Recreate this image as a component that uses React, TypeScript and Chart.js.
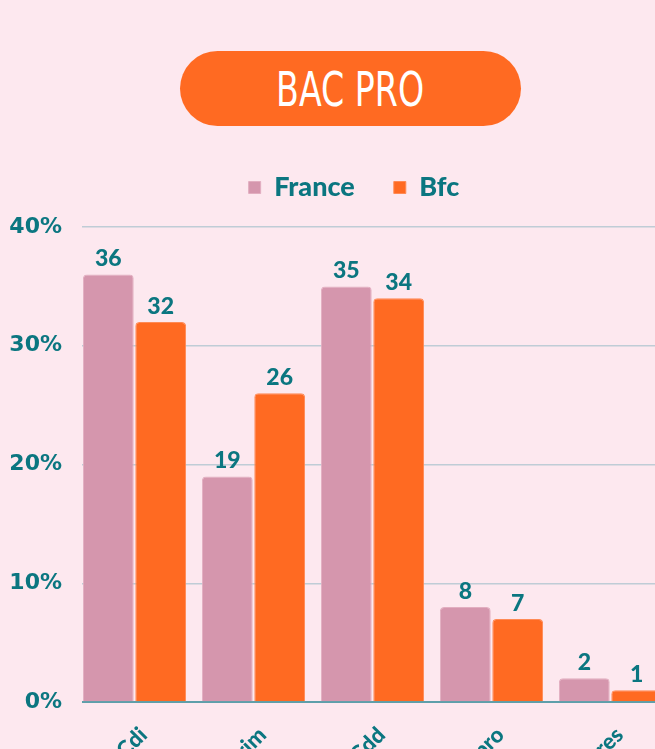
import React, { useEffect, useRef } from "react";
import { Chart, registerables } from "chart.js";

Chart.register(...registerables);

const categories = ["En Cdi", "En intérim", "En Cdd", "En contrat pro", "Autres"];
const franceValues = [36, 19, 35, 8, 2];
const bfcValues = [32, 26, 34, 7, 1];
const yTicks = [0, 10, 20, 30, 40];

const TEAL = "#0b7680";
const PINK = "#d596ad";
const ORANGE = "#ff6a22";
const BG = "#fde8ef";
const FONT = "Lato, 'DejaVu Sans', sans-serif";

const valueLabels = {
  id: "valueLabels",
  afterDatasetsDraw(chart: any) {
    const ctx = chart.ctx;
    ctx.save();
    ctx.font = `900 23px ${FONT}`;
    ctx.fillStyle = TEAL;
    ctx.textAlign = "center";
    ctx.textBaseline = "bottom";
    chart.data.datasets.forEach((ds: any, i: number) => {
      const meta = chart.getDatasetMeta(i);
      meta.data.forEach((el: any, j: number) => {
        ctx.fillText(String(ds.data[j]), el.x, el.y - 4);
      });
    });
    ctx.restore();
  },
};

// grid lines and axis line begin a few pixels inside the plot area
const gridInset = {
  id: "gridInset",
  beforeDatasetsDraw(chart: any) {
    const { ctx, chartArea } = chart;
    ctx.save();
    ctx.fillStyle = BG;
    ctx.fillRect(chartArea.left - 2, chartArea.top - 3, 9, chartArea.bottom - chartArea.top + 6);
    ctx.restore();
  },
};

const legendTweak = {
  id: "legendTweak",
  beforeInit(chart: any) {
    const legend = chart.legend;
    if (!legend) return;
    const origFit = legend.fit;
    legend.fit = function () {
      origFit.call(this);
      this.height += 16;
    };
  },
  afterLayout(chart: any) {
    const legend = chart.legend;
    if (!legend) return;
    legend.left += 19;
    legend.right += 19;
  },
};

export default function App() {
  const ref = useRef<HTMLCanvasElement>(null);
  useEffect(() => {
    document.body.style.margin = "0";
    document.body.style.background = BG;
    const chart = new Chart(ref.current!, {
      type: "bar",
      data: {
        labels: categories,
        datasets: [
          {
            label: "France",
            data: franceValues,
            backgroundColor: PINK,
            borderColor: "#e2aec0",
            borderWidth: 1,
            borderRadius: 4,
            borderSkipped: "bottom",
          },
          {
            label: "Bfc",
            data: bfcValues,
            backgroundColor: ORANGE,
            borderColor: "#ff8a55",
            borderWidth: 1,
            borderRadius: 4,
            borderSkipped: "bottom",
          },
        ],
      },
      options: {
        animation: false,
        responsive: false,
        maintainAspectRatio: false,
        layout: { padding: { top: 15, right: 0, left: 0, bottom: 0 } },
        plugins: {
          tooltip: { enabled: false },
          legend: {
            position: "top",
            labels: {
              boxWidth: 12,
              boxHeight: 12,
              padding: 39,
              color: TEAL,
              font: { family: FONT, size: 27, weight: "900" as any },
            },
          },
        },
        datasets: { bar: { categoryPercentage: 0.88, barPercentage: 0.97 } },
        scales: {
          x: {
            grid: { display: false },
            border: { display: true, color: "#5e9faa", width: 2 },
            ticks: {
              color: TEAL,
              font: { family: FONT, size: 22, weight: "900" as any },
              maxRotation: 45,
              minRotation: 45,
              labelOffset: 9,
              padding: 12,
            },
            afterFit: (s: any) => {
              s.height = 148;
              s.paddingLeft = 0;
              s.paddingRight = 0;
            },
          },
          y: {
            min: 0,
            max: 40,
            afterBuildTicks: (s: any) => {
              s.ticks = yTicks.map((v) => ({ value: v }));
            },
            grid: { color: "#bfccd6", lineWidth: 1.5, drawTicks: false },
            border: { display: false },
            ticks: {
              color: TEAL,
              padding: 13,
              font: { family: "'DejaVu Sans', sans-serif", size: 22, weight: "bold" as any },
              callback: (v: any) => v + "%",
            },
            afterFit: (s: any) => {
              s.width = 75;
            },
          },
        },
      },
      plugins: [legendTweak, gridInset, valueLabels],
    });
    return () => chart.destroy();
  }, []);

  return (
    <div
      style={{
        position: "relative",
        width: 655,
        height: 749,
        overflow: "hidden",
        background: BG,
      }}
    >
      <div
        style={{
          position: "absolute",
          left: 180,
          top: 51,
          width: 341,
          height: 75,
          borderRadius: 38,
          background: ORANGE,
          display: "flex",
          alignItems: "center",
          justifyContent: "center",
        }}
      >
        <span
          style={{
            color: "#fff",
            fontFamily: "'DejaVu Sans', sans-serif",
            fontStretch: "condensed",
            fontWeight: 400,
            fontSize: 48,
            display: "inline-block",
            transform: "scaleX(0.77)",
          }}
        >
          BAC PRO
        </span>
      </div>
      <canvas
        ref={ref}
        width={670}
        height={730}
        style={{ position: "absolute", left: 0, top: 120, width: 670, height: 730 }}
      />
    </div>
  );
}
